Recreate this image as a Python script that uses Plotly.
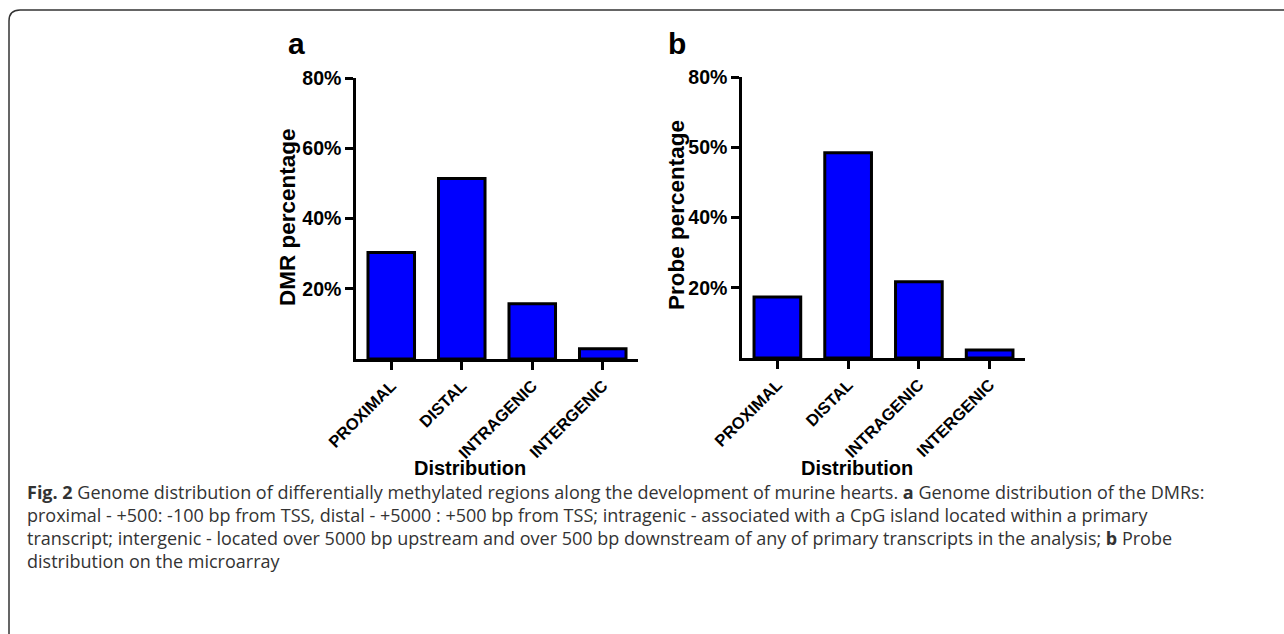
import plotly.graph_objects as go

# ---- data ----
categories = ["PROXIMAL", "DISTAL", "INTRAGENIC", "INTERGENIC"]
dmr_values = [30.3, 51.4, 15.7, 2.9]
probe_values = [17.4, 58.4, 21.7, 2.3]
a_tickvals = [20, 40, 60, 80]
a_ticktext = ["20%", "40%", "60%", "80%"]
b_tickvals = [20, 40, 60, 80]
b_ticktext = ["20%", "40%", "50%", "80%"]

W, H = 1284, 634
def px(x):
    return x / W
def py(y):
    return 1 - y / H

FONT = "Arial, Liberation Sans, sans-serif"
CAP = "Open Sans, Noto Sans, sans-serif"
BLUE = "#0000FF"

fig = go.Figure()
fig.add_trace(go.Bar(x=categories, y=dmr_values, xaxis="x", yaxis="y",
                     marker=dict(color=BLUE, line=dict(color="black", width=3)),
                     width=0.66, showlegend=False))
fig.add_trace(go.Bar(x=categories, y=probe_values, xaxis="x2", yaxis="y2",
                     marker=dict(color=BLUE, line=dict(color="black", width=3)),
                     width=0.66, showlegend=False))

axis_common = dict(showline=True, linecolor="black", linewidth=2.5, ticks="outside",
                   ticklen=8, tickwidth=2.5, tickcolor="black", showgrid=False,
                   zeroline=False, mirror=False, automargin=False)
xtickfont = dict(family=FONT, size=16.5, color="black", weight="bold")
ytickfont = dict(family=FONT, size=19.5, color="black", weight="bold")

fig.update_layout(
    template="none",
    width=W, height=H, autosize=False,
    margin=dict(l=0, r=0, t=0, b=0, pad=0, autoexpand=False),
    paper_bgcolor="white", plot_bgcolor="white",
    xaxis=dict(domain=[px(356), px(638)], range=[-0.5, 3.5], anchor="y",
               tickangle=-45, tickfont=xtickfont, **axis_common),
    yaxis=dict(domain=[py(359), py(78)], range=[0, 80], anchor="x",
               tickvals=a_tickvals, ticktext=a_ticktext, tickfont=ytickfont, **axis_common),
    xaxis2=dict(domain=[px(742), px(1025)], range=[-0.5, 3.5], anchor="y2",
                tickangle=-45, tickfont=xtickfont, **axis_common),
    yaxis2=dict(domain=[py(358), py(77)], range=[0, 80], anchor="x2",
                tickvals=b_tickvals, ticktext=b_ticktext, tickfont=ytickfont, **axis_common),
)

ann = []
ann.append(dict(x=px(296), y=py(43), text="<b>a</b>", font=dict(family=FONT, size=30, color="black")))
ann.append(dict(x=px(677), y=py(43), text="<b>b</b>", font=dict(family=FONT, size=30, color="black")))
ann.append(dict(x=px(287), y=py(217), text="<b>DMR percentage</b>", textangle=-90,
                font=dict(family=FONT, size=22.5, color="black")))
ann.append(dict(x=px(676), y=py(215), text="<b>Probe percentage</b>", textangle=-90,
                font=dict(family=FONT, size=22.5, color="black")))
ann.append(dict(x=px(470), y=py(468), text="<b>Distribution</b>",
                font=dict(family=FONT, size=20, color="black")))
ann.append(dict(x=px(857), y=py(468), text="<b>Distribution</b>",
                font=dict(family=FONT, size=20, color="black")))
for a in ann:
    a.update(xref="paper", yref="paper", showarrow=False, xanchor="center", yanchor="middle")

caption = [
    "<b>Fig. 2</b> Genome distribution of differentially methylated regions along the development of murine hearts. <b>a</b> Genome distribution of the DMRs:",
    "proximal - +500: -100 bp from TSS, distal - +5000 : +500 bp from TSS; intragenic - associated with a CpG island located within a primary",
    "transcript; intergenic - located over 5000 bp upstream and over 500 bp downstream of any of primary transcripts in the analysis; <b>b</b> Probe",
    "distribution on the microarray",
]
cap_y = [492, 515, 538, 561]
for t, yy in zip(caption, cap_y):
    ann.append(dict(x=px(25), y=py(yy), text=t, xref="paper", yref="paper", showarrow=False,
                    xanchor="left", yanchor="middle",
                    font=dict(family=CAP, size=18, color="#333333")))
fig.update_layout(annotations=ann)

path = (f"M {px(1284)},{py(10)} L {px(20)},{py(10)} "
        f"Q {px(9)},{py(10)} {px(9)},{py(21)} L {px(9)},{py(634)}")
fig.add_shape(type="path", path=path, xref="paper", yref="paper",
              line=dict(color="#333333", width=1.5))

fig.write_html("out.html", config={"displayModeBar": False},
               post_script="document.body.style.margin='0';document.body.style.overflow='hidden';")
